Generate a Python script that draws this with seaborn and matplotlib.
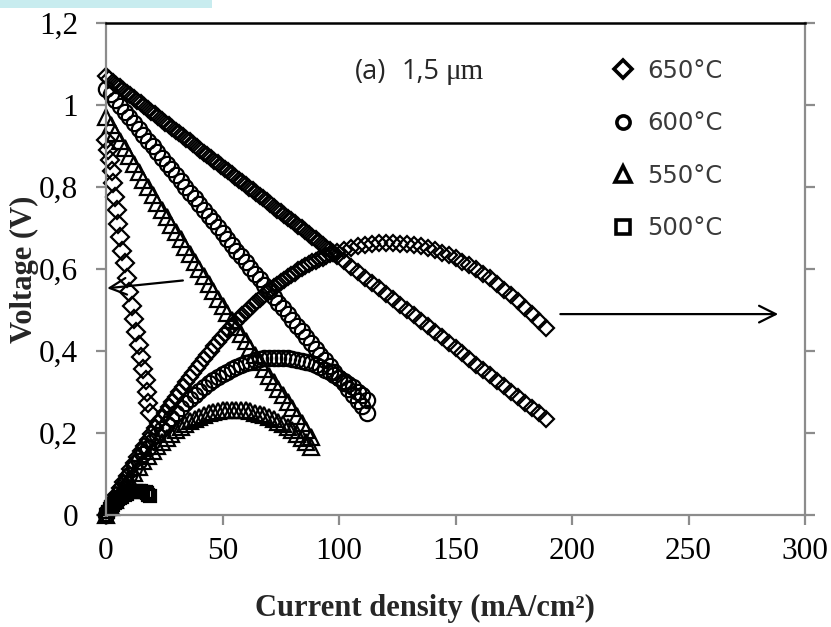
import matplotlib
matplotlib.use("Agg")
import matplotlib.pyplot as plt
from matplotlib.lines import Line2D
from matplotlib.patches import Rectangle
import seaborn as sns
import pandas as pd

# ---------------- data ----------------
temps = ["650°C", "600°C", "550°C", "500°C"]

# 650 °C
i650 = [0, 1.5, 3, 4.5, 6, 7.5, 9, 10.5, 12, 13.5, 15, 16.5, 18, 19.5, 21, 22.5, 24, 25.5, 27, 28.5,
        30, 31.5, 33, 34.5, 36, 37.5, 39, 40.5, 42, 43.5, 45, 46.5, 48, 49.5, 51, 52.5, 54, 55.5, 57, 58.5,
        60, 61.5, 63, 64.5, 66, 67.5, 69, 70.5, 72, 73.5, 75, 76.5, 78, 79.5, 81, 82.5, 84, 85.5, 87, 88.5,
        90, 91.5, 93, 94.5, 96, 97.5, 99,
        102, 105, 108, 111, 114, 117, 120, 123, 126, 129, 132, 135, 138, 141, 144, 147, 150,
        153, 156, 159, 162, 165, 168, 171, 174, 177, 180, 183, 186, 189]
v650 = [1.070, 1.063, 1.057, 1.050, 1.043, 1.037, 1.030, 1.024, 1.017, 1.010, 1.004, 0.997, 0.990, 0.984,
        0.977, 0.971, 0.964, 0.957, 0.951, 0.944, 0.937, 0.931, 0.924, 0.918, 0.911, 0.904, 0.898, 0.891,
        0.884, 0.878, 0.871, 0.864, 0.858, 0.851, 0.845, 0.838, 0.831, 0.825, 0.818, 0.811, 0.805, 0.798,
        0.792, 0.785, 0.778, 0.772, 0.765, 0.758, 0.752, 0.745, 0.739, 0.732, 0.725, 0.719, 0.712, 0.705,
        0.699, 0.692, 0.685, 0.679, 0.672, 0.666, 0.659, 0.652, 0.646, 0.639, 0.632,
        0.619, 0.606, 0.593, 0.579, 0.566, 0.553, 0.540, 0.526, 0.513, 0.500, 0.487, 0.473, 0.460,
        0.447, 0.434, 0.420, 0.407, 0.394, 0.381, 0.367, 0.354, 0.341, 0.327, 0.314, 0.301, 0.288,
        0.274, 0.261, 0.248, 0.235]
p650 = [0.000, 0.017, 0.033, 0.049, 0.065, 0.081, 0.096, 0.111, 0.126, 0.141, 0.155, 0.169, 0.183, 0.197,
        0.211, 0.224, 0.237, 0.250, 0.263, 0.276, 0.288, 0.300, 0.312, 0.324, 0.336, 0.347, 0.358, 0.369,
        0.380, 0.391, 0.401, 0.412, 0.422, 0.432, 0.441, 0.451, 0.460, 0.469, 0.478, 0.487, 0.495, 0.503,
        0.511, 0.519, 0.526, 0.534, 0.541, 0.548, 0.555, 0.562, 0.568, 0.574, 0.580, 0.586, 0.591, 0.597,
        0.602, 0.607, 0.611, 0.616, 0.620, 0.624, 0.628, 0.632, 0.636, 0.639, 0.642,
        0.647, 0.652, 0.656, 0.659, 0.661, 0.663, 0.664, 0.663, 0.662, 0.661, 0.659, 0.655, 0.651,
        0.646, 0.640, 0.633, 0.626, 0.618, 0.609, 0.599, 0.588, 0.577, 0.563, 0.550, 0.537, 0.523,
        0.506, 0.490, 0.473, 0.455]

# 600 °C
i600 = [0, 2, 4, 6, 8, 10, 12, 14, 16, 18, 20, 22, 24, 26, 28, 30, 32, 34, 36, 38,
        40, 42, 44, 46, 48, 50, 52, 54, 56, 58, 60, 62, 64, 66, 68, 70, 72, 74, 76, 78,
        80, 82, 84, 86, 88, 90, 92, 94, 96, 98, 100, 102, 104, 106, 108, 110, 112]
v600 = [1.040, 1.026, 1.012, 0.998, 0.984, 0.970, 0.955, 0.941, 0.927, 0.913, 0.899, 0.885, 0.871, 0.857,
        0.843, 0.829, 0.814, 0.800, 0.786, 0.772, 0.758, 0.744, 0.730, 0.716, 0.702, 0.688, 0.673, 0.659,
        0.645, 0.631, 0.617, 0.603, 0.589, 0.575, 0.561, 0.547, 0.532, 0.518, 0.504, 0.490, 0.476, 0.462,
        0.448, 0.434, 0.420, 0.406, 0.391, 0.377, 0.363, 0.349, 0.335, 0.321, 0.307, 0.293, 0.279, 0.265,
        0.250]
p600 = [0.000, 0.021, 0.040, 0.060, 0.079, 0.097, 0.115, 0.132, 0.148, 0.164, 0.180, 0.195, 0.209, 0.223,
        0.236, 0.249, 0.261, 0.272, 0.283, 0.293, 0.303, 0.313, 0.321, 0.329, 0.337, 0.344, 0.350, 0.356,
        0.361, 0.366, 0.370, 0.374, 0.377, 0.380, 0.382, 0.383, 0.383, 0.383, 0.383, 0.382, 0.381, 0.379,
        0.376, 0.373, 0.370, 0.365, 0.360, 0.354, 0.349, 0.342, 0.335, 0.327, 0.319, 0.311, 0.301, 0.292,
        0.280]

# 550 °C
i550 = [0, 2, 4, 6, 8, 10, 12, 14, 16, 18, 20, 22, 24, 26, 28, 30, 32, 34, 36, 38,
        40, 42, 44, 46, 48, 50, 52, 54, 56, 58, 60, 62, 64, 66, 68, 70, 72, 74, 76, 78,
        80, 82, 84, 86, 88]
v550 = [0.970, 0.951, 0.932, 0.913, 0.894, 0.875, 0.856, 0.837, 0.818, 0.799, 0.780, 0.762, 0.744, 0.726,
        0.708, 0.690, 0.672, 0.654, 0.636, 0.618, 0.600, 0.582, 0.564, 0.546, 0.528, 0.510, 0.493, 0.476,
        0.459, 0.442, 0.425, 0.408, 0.391, 0.374, 0.357, 0.340, 0.324, 0.308, 0.292, 0.276, 0.260, 0.242,
        0.225, 0.207, 0.190]
p550 = [0.000, 0.019, 0.037, 0.055, 0.072, 0.088, 0.103, 0.117, 0.131, 0.144, 0.156, 0.168, 0.179, 0.189,
        0.198, 0.207, 0.215, 0.222, 0.229, 0.235, 0.240, 0.244, 0.248, 0.251, 0.253, 0.255, 0.256, 0.257,
        0.257, 0.256, 0.255, 0.253, 0.250, 0.247, 0.243, 0.238, 0.233, 0.228, 0.222, 0.215, 0.208, 0.198,
        0.189, 0.178, 0.167]

# 500 °C
i500 = [0.0, 0.8, 1.6, 2.4, 3.0, 3.8, 4.6, 5.3, 6.0, 7.0, 8.0, 9.0, 10.0, 11.0, 12.0, 13.0, 14.0,
        15.0, 16.0, 17.0, 17.6, 18.2, 18.9]
v500 = [0.915, 0.890, 0.865, 0.840, 0.810, 0.775, 0.744, 0.710, 0.678, 0.645, 0.615, 0.578, 0.545,
        0.510, 0.478, 0.447, 0.415, 0.385, 0.355, 0.330, 0.300, 0.273, 0.249]
p500 = [0.000, 0.007, 0.014, 0.020, 0.024, 0.030, 0.034, 0.038, 0.041, 0.045, 0.049, 0.052, 0.055,
        0.056, 0.057, 0.058, 0.058, 0.058, 0.057, 0.056, 0.053, 0.050, 0.047]

x_ticks = [0, 50, 100, 150, 200, 250, 300]
y_ticks = [0, 0.2, 0.4, 0.6, 0.8, 1.0, 1.2]
y_tick_labels = ["0", "0,2", "0,4", "0,6", "0,8", "1", "1,2"]

# ---------------- figure ----------------
sns.set_theme(style="white")
plt.rcParams["font.family"] = ["Liberation Serif", "DejaVu Serif"]

W, H = 831, 627
fig = plt.figure(figsize=(W / 100, H / 100), dpi=100)
ax = fig.add_axes([106 / W, 1 - 515 / H, (805 - 106) / W, (515 - 23) / H])

mk = dict(linestyle="", markerfacecolor="none", markeredgecolor="black",
          markeredgewidth=1.6, clip_on=False, estimator=None, sort=False, legend=False)

series = [
    (i650, v650, "D", 8.6),
    (i650, p650, "D", 8.6),
    (i600, v600, "o", 11.0),
    (i600, p600, "o", 11.0),
    (i550, v550, "^", 11.0),
    (i550, p550, "^", 11.0),
    (i500, v500, "D", 9.0),
    (i500, p500, "s", 9.0),
]
for xs, ys, m, ms in series:
    df = pd.DataFrame({"j": xs, "v": ys})
    sns.lineplot(data=df, x="j", y="v", ax=ax, marker=m, markersize=ms, **mk)

ax.set_xlim(0, 300)
ax.set_ylim(0, 1.2)
ax.set_xticks(x_ticks)
ax.set_xticklabels([str(t) for t in x_ticks])
ax.set_yticks(y_ticks)
ax.set_yticklabels(y_tick_labels)

grey = "#8c8c8c"
for s in ["left", "bottom", "right"]:
    ax.spines[s].set_color(grey)
    ax.spines[s].set_linewidth(1.6)
ax.spines["top"].set_color("black")
ax.spines["top"].set_linewidth(1.8)

ax.tick_params(axis="both", which="major", direction="out", length=7, width=1.6,
               color=grey, labelsize=22.5, labelcolor="black")
ax.tick_params(axis="x", pad=9, bottom=True)
ax.tick_params(axis="y", pad=13, left=True, right=True, labelright=False)

ax.set_xlabel("Current density (mA/cm²)", fontsize=22, fontweight="bold")
ax.set_ylabel("Voltage (V)", fontsize=22, fontweight="bold")
ax.xaxis.set_label_coords((425 - 106) / (805 - 106), (515 - 594) / (515 - 23))
ax.yaxis.set_label_coords((39 - 106) / (805 - 106), 0.5)

# arrows
arr = dict(arrowstyle="->,head_length=0.6,head_width=0.3", lw=1.6, color="black",
           mutation_scale=20, shrinkA=0, shrinkB=0)
ax.annotate("", xy=(0.5, 0.553), xytext=(33, 0.572), arrowprops=arr, annotation_clip=False)
ax.annotate("", xy=(288.5, 0.490), xytext=(195, 0.490), arrowprops=arr, annotation_clip=False)

# annotation text
ann_font = ["Open Sans", "DejaVu Sans"]
fig.text(355 / W, 1 - 72 / H, "(a)", fontsize=19.5, family=ann_font, ha="left", va="center")
fig.text(402 / W, 1 - 72 / H, "1,5", fontsize=19.5, family=ann_font, ha="left", va="center")
fig.text(446 / W, 1 - 72 / H, "μm", fontsize=21, family=["Liberation Serif"],
         ha="left", va="center")

# legend
handles = [
    Line2D([], [], marker="D", ls="", mfc="none", mec="black", mew=2.6, ms=9.5),
    Line2D([], [], marker="o", ls="", mfc="none", mec="black", mew=2.6, ms=9.5),
    Line2D([], [], marker="^", ls="", mfc="none", mec="black", mew=2.6, ms=11),
    Line2D([], [], marker="s", ls="", mfc="none", mec="black", mew=2.6, ms=9.5),
]
leg = ax.legend(handles, temps, loc="upper left", bbox_to_anchor=(611 / W, 1 - 59 / H),
                bbox_transform=fig.transFigure, frameon=False, handlelength=1.0,
                handletextpad=0.5, labelspacing=1.17, borderpad=0, borderaxespad=0,
                prop={"family": ["DejaVu Sans"], "size": 17.5})
for t in leg.get_texts():
    t.set_color("#3a3a3a")

# cyan strip at top-left corner
fig.patches.append(Rectangle((0, 1 - 8 / H), 212 / W, 8 / H, transform=fig.transFigure,
                             facecolor="#c8ecef", edgecolor="none", zorder=0))

fig.savefig("out.png", dpi=100)
